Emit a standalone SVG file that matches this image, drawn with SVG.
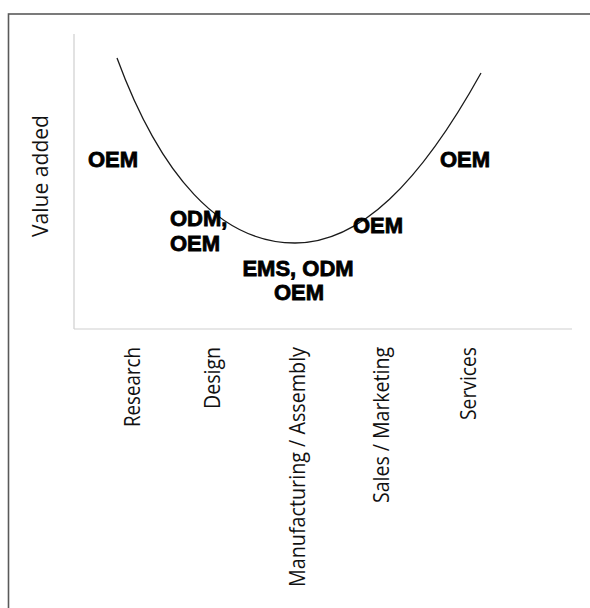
<svg xmlns="http://www.w3.org/2000/svg" width="590" height="608" viewBox="0 0 590 608">
  <style>
    .frame { fill: none; stroke: #5a5a5a; stroke-width: 1.6; }
    .axis { fill: none; stroke: #cfcfcf; stroke-width: 1.2; }
    .curve { fill: none; stroke: #1a1a1a; stroke-width: 1.3; }
    .lbl { font-family: "Liberation Sans", Arial, sans-serif; font-weight: bold; font-size: 22px; fill: #000; stroke: #000; stroke-width: 0.8; }
    .ax { font-family: "Open Sans", "Noto Sans", sans-serif; font-size: 21px; fill: #111; }
  </style>
  <rect width="590" height="608" fill="#fff"/>
  <rect class="frame" x="8.5" y="14" width="600" height="620"/>
  <g id="axes">
    <line class="axis" x1="74" y1="34" x2="74" y2="329"/>
    <line class="axis" x1="74" y1="329" x2="572" y2="329"/>
  </g>
  <g id="connectors">
    <path class="curve" d="M117,58 C160,175 220,243 295,243 C360,243 420,183 481,73"/>
  </g>
  <g id="y-label">
    <text class="ax" transform="translate(48,237) rotate(-90)" textLength="122" lengthAdjust="spacingAndGlyphs">Value added</text>
  </g>
  <g id="stage-research">
    <text class="ax" text-anchor="end" transform="translate(140,347) rotate(-90)" textLength="80" lengthAdjust="spacingAndGlyphs">Research</text>
  </g>
  <g id="stage-design">
    <text class="ax" text-anchor="end" transform="translate(220,347) rotate(-90)" textLength="62" lengthAdjust="spacingAndGlyphs">Design</text>
  </g>
  <g id="stage-manufacturing">
    <text class="ax" text-anchor="end" transform="translate(305,347) rotate(-90)" textLength="240" lengthAdjust="spacingAndGlyphs">Manufacturing / Assembly</text>
  </g>
  <g id="stage-sales">
    <text class="ax" text-anchor="end" transform="translate(389,347) rotate(-90)" textLength="156" lengthAdjust="spacingAndGlyphs">Sales / Marketing</text>
  </g>
  <g id="stage-services">
    <text class="ax" text-anchor="end" transform="translate(476,347) rotate(-90)" textLength="73" lengthAdjust="spacingAndGlyphs">Services</text>
  </g>
  <g id="label-research">
    <text class="lbl" x="88" y="167">OEM</text>
  </g>
  <g id="label-design">
    <text class="lbl" x="170" y="226">ODM,</text>
    <text class="lbl" x="170" y="251">OEM</text>
  </g>
  <g id="label-manufacturing">
    <text class="lbl" x="298" y="276" text-anchor="middle">EMS, ODM</text>
    <text class="lbl" x="299" y="300" text-anchor="middle">OEM</text>
  </g>
  <g id="label-sales">
    <text class="lbl" x="353" y="233">OEM</text>
  </g>
  <g id="label-services">
    <text class="lbl" x="440" y="167">OEM</text>
  </g>
</svg>
